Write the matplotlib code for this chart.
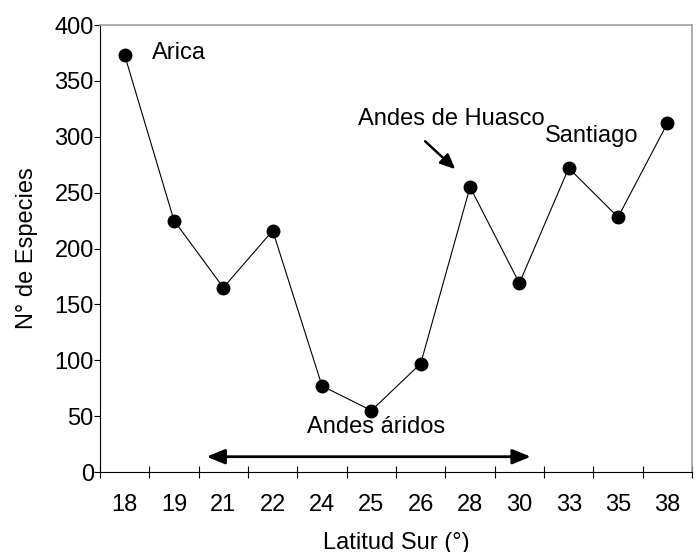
import numpy as np
from matplotlib import pyplot as plt

plt.rcParams["font.family"] = ["Liberation Sans", "DejaVu Sans"]

latitudes = ["18", "19", "21", "22", "24", "25", "26", "28", "30", "33", "35", "38"]
n_species = [373, 225, 165, 216, 77, 55, 97, 255, 169, 272, 228, 312]

fs = 17
fig = plt.figure(figsize=(6.97, 5.52), dpi=100)
ax = fig.add_axes([0.1435, 0.1449, 0.8494, 0.8098])

x = np.arange(len(latitudes))
ax.plot(x, n_species, "-k", lw=0.8, marker="o", ms=9, mfc="k", mec="k")

ax.set_xlim(-0.5, len(latitudes) - 0.5)
ax.set_ylim(0, 400)
ax.set_yticks(np.arange(0, 401, 50))
ax.set_xticks(x)
ax.set_xticklabels(latitudes)
ax.set_xticks(np.arange(-0.5, len(latitudes), 1.0), minor=True)
ax.tick_params(axis="x", which="major", length=0, labelsize=fs, pad=16)
ax.tick_params(axis="x", which="minor", direction="inout", length=8, width=0.8)
ax.tick_params(axis="y", direction="out", length=4, width=0.8, labelsize=fs, pad=0.5)

for side in ["top", "right"]:
    ax.spines[side].set_color("#a0a0a0")
    ax.spines[side].set_linewidth(1.2)
for side in ["left", "bottom"]:
    ax.spines[side].set_linewidth(0.8)

ax.set_xlabel("Latitud Sur (°)", fontsize=fs, labelpad=11)
ax.set_ylabel("N° de Especies", fontsize=fs, labelpad=12)

ax.text(0.55, 370, "Arica", fontsize=fs, va="baseline", ha="left")
ax.text(4.73, 310.5, "Andes de Huasco", fontsize=fs, va="baseline", ha="left")
ax.text(8.52, 295, "Santiago", fontsize=fs, va="baseline", ha="left")
ax.text(5.10, 35, "Andes áridos", fontsize=fs, va="baseline", ha="center")

ax.annotate("", xy=(6.70, 271), xytext=(6.09, 296),
            arrowprops=dict(arrowstyle="-|>,head_length=0.9,head_width=0.4", color="k", lw=1.8,
                            shrinkA=0, shrinkB=0))
ax.annotate("", xy=(1.66, 13.7), xytext=(8.23, 13.7),
            arrowprops=dict(arrowstyle="<|-|>,head_length=1.1,head_width=0.45", color="k", lw=2,
                            shrinkA=0, shrinkB=0))

plt.savefig("out.png")
